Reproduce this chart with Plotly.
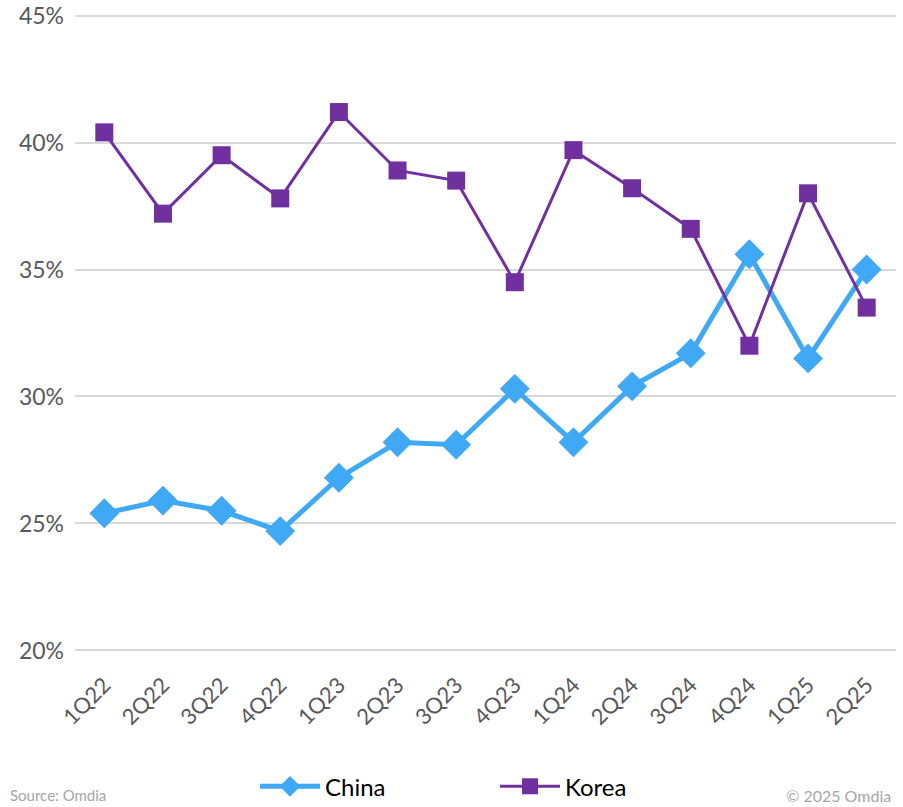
import plotly.graph_objects as go

quarters = ["1Q22", "2Q22", "3Q22", "4Q22", "1Q23", "2Q23", "3Q23", "4Q23",
            "1Q24", "2Q24", "3Q24", "4Q24", "1Q25", "2Q25"]
china = [25.4, 25.9, 25.5, 24.7, 26.8, 28.2, 28.1, 30.3, 28.2, 30.4, 31.7, 35.6, 31.5, 35.0]
korea = [40.4, 37.2, 39.5, 37.8, 41.2, 38.9, 38.5, 34.5, 39.7, 38.2, 36.6, 32.0, 38.0, 33.5]
y_ticks = [20, 25, 30, 35, 40, 45]
y_tick_labels = ["20%", "25%", "30%", "35%", "40%", "45%"]

CHINA_COLOR = "#3FA9F5"
KOREA_COLOR = "#7030A0"
FONT = "Lato, 'Open Sans', sans-serif"

fig = go.Figure()
fig.add_trace(go.Scatter(
    x=quarters, y=china, name="China", mode="lines+markers",
    line=dict(color=CHINA_COLOR, width=5),
    marker=dict(symbol="diamond", size=23, color=CHINA_COLOR),
))
fig.add_trace(go.Scatter(
    x=quarters, y=korea, name="Korea", mode="lines+markers",
    line=dict(color=KOREA_COLOR, width=3),
    marker=dict(symbol="square", size=18, color=KOREA_COLOR),
))

fig.update_layout(
    width=903, height=807,
    margin=dict(l=75, r=7, t=13, b=154, autoexpand=False),
    plot_bgcolor="white", paper_bgcolor="white",
    font=dict(family=FONT, color="#595959"),
    showlegend=True,
    legend=dict(orientation="h", x=(255 - 75) / 821, xanchor="left",
                y=-0.209, yanchor="middle",
                font=dict(size=24, color="#000000"), itemwidth=60,
                traceorder="normal", entrywidth=165),
    xaxis=dict(
        type="category", range=[-0.5, 13.5], tickangle=-45,
        tickfont=dict(size=22, color="#595959"), showgrid=False,
        showline=False, ticks="", ticklabelstandoff=14, automargin=False,
    ),
    yaxis=dict(
        range=[19.9, 45.1], tickvals=y_ticks, ticktext=y_tick_labels,
        tickfont=dict(size=23, color="#595959"),
        showgrid=True, gridcolor="#D9D9D9", gridwidth=1.5,
        zeroline=False, showline=False, ticks="", ticklabelstandoff=10,
        automargin=False,
    ),
)

fig.add_annotation(text="Source: Omdia", xref="paper", yref="paper",
                   x=-67 / 821, y=-0.222, xanchor="left", yanchor="middle",
                   showarrow=False, font=dict(size=15, color="#A6A6A6"))
fig.add_annotation(text="© 2025 Omdia", xref="paper", yref="paper",
                   x=(893 - 75) / 821, y=-0.222, xanchor="right", yanchor="middle",
                   showarrow=False, font=dict(size=16, color="#A6A6A6"))

fig.write_html("out.html")
